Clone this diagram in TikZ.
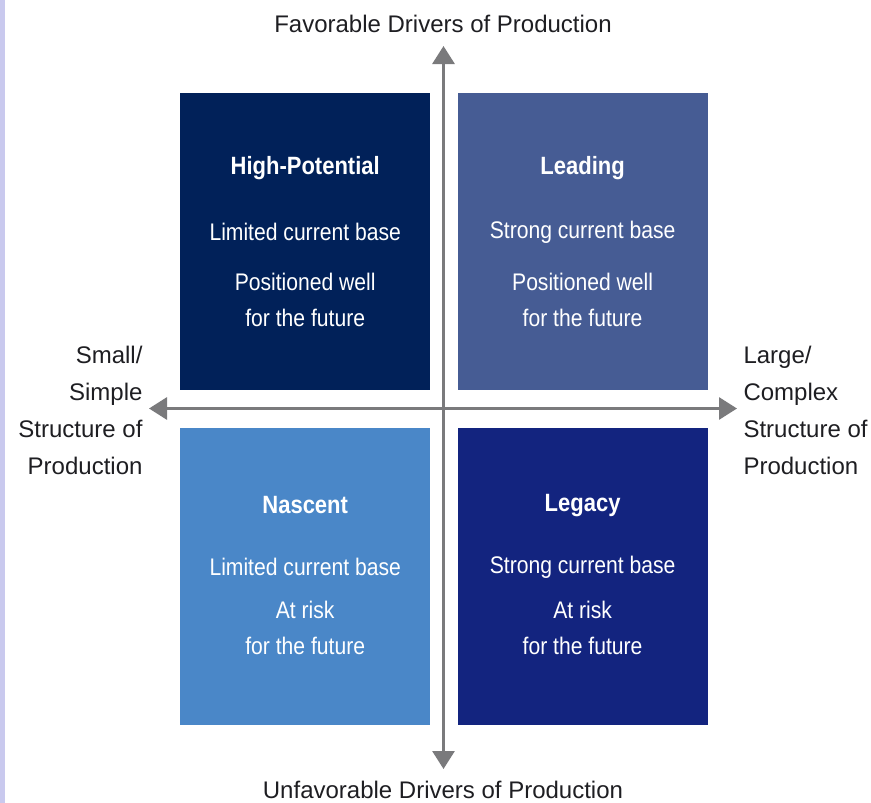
\documentclass[tikz,border=0pt]{standalone}
\usepackage{fontspec}
\setmainfont{Liberation Sans}
\newfontfamily\narrowfont[FakeStretch=0.88]{Liberation Sans}
\usepackage{tikz}
\usetikzlibrary{
  arrows.meta,
  positioning
}
\definecolor{hipotblue}{HTML}{012159}
\definecolor{leadblue}{HTML}{465C94}
\definecolor{nascblue}{HTML}{4A87C8}
\definecolor{legacyblue}{HTML}{13247F}
\definecolor{axisgray}{HTML}{7A7A7C}
\definecolor{labelgray}{HTML}{1E1E22}
\definecolor{edgelilac}{HTML}{C9C9EE}

\begin{document}
\begin{tikzpicture}[
  x=1pt, y=-1pt,
  quad/.style={
    minimum width=250pt, minimum height=297pt, inner sep=0pt,
  },
  title/.style={
    font=\narrowfont\fontsize{25}{36}\selectfont\bfseries, text=white,
  },
  body/.style={
    font=\narrowfont\fontsize{24}{36}\selectfont, text=white, align=center,
  },
  axislabel/.style={
    font=\fontsize{24}{37}\selectfont, text=labelgray,
  },
  axis/.style={
    {Triangle[width=22pt,length=18pt]}-{Triangle[width=22pt,length=18pt]},
    line width=3pt, draw=axisgray,
  },
]
\useasboundingbox (0,0) rectangle (871,803);
\fill[edgelilac] (0,0) rectangle (5,803);

\node[quad, fill=hipotblue, anchor=north west] (hipot) at (180,93) {};
\node[quad, fill=leadblue, right=27pt of hipot] (lead) {};
\node[quad, fill=nascblue, below=37pt of hipot] (nasc) {};
\node[quad, fill=legacyblue, below=37pt of lead] (legacy) {};

\node[title] (hipotT) at ([yshift=-75pt]hipot.north) {High-Potential};
\node[body] (hipotA) at ([yshift=-139pt]hipot.north) {Limited current base};
\node[body] (hipotB) at ([yshift=-207pt]hipot.north) {Positioned well\\for the future};

\node[title] (leadT) at ([yshift=-75pt]lead.north) {Leading};
\node[body] (leadA) at ([yshift=-139pt]lead.north) {Strong current base};
\node[body] (leadB) at ([yshift=-207pt]lead.north) {Positioned well\\for the future};

\node[title] (nascT) at ([yshift=-78pt]nasc.north) {Nascent};
\node[body] (nascA) at ([yshift=-140pt]nasc.north) {Limited current base};
\node[body] (nascB) at ([yshift=-201pt]nasc.north) {At risk\\for the future};

\node[title] (legacyT) at ([yshift=-78pt]legacy.north) {Legacy};
\node[body] (legacyA) at ([yshift=-140pt]legacy.north) {Strong current base};
\node[body] (legacyB) at ([yshift=-201pt]legacy.north) {At risk\\for the future};

% axes
\coordinate (ctop) at (443.5,46);
\coordinate (cbot) at (443.5,769);
\coordinate (cleft) at (149,408.5);
\coordinate (cright) at (737,408.5);
\draw[axis] (cbot) -- (ctop);
\draw[axis] (cleft) -- (cright);

\node[axislabel] (fav) at (443,24) {Favorable Drivers of Production};
\node[axislabel] (unfav) at (443,790) {Unfavorable Drivers of Production};
\node[axislabel, align=right, anchor=east] (small) at (146,410) {Small/\\Simple\\Structure of\\Production};
\node[axislabel, align=left, anchor=west] (large) at (740,410) {Large/\\Complex\\Structure of\\Production};

\end{tikzpicture}
\end{document}
